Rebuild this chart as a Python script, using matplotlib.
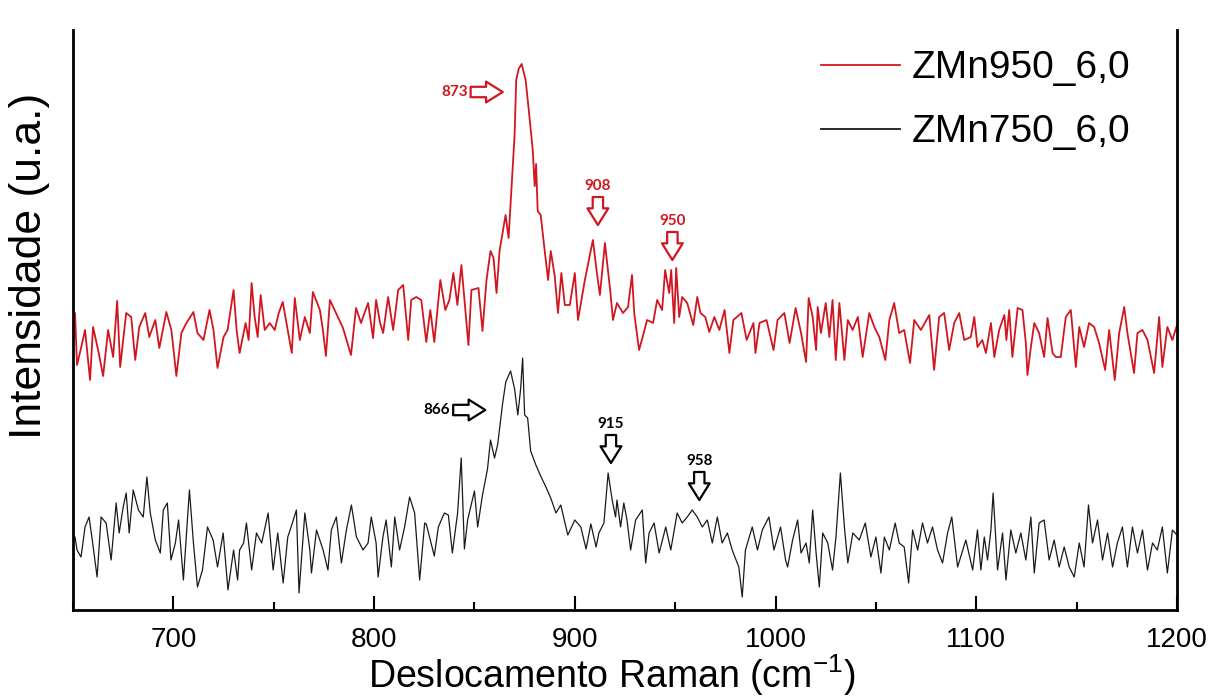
import matplotlib
matplotlib.use('Agg')
import matplotlib.pyplot as plt
from matplotlib.ticker import MultipleLocator

plt.rcParams['font.family'] = ['Liberation Sans', 'DejaVu Sans']
plt.rcParams['mathtext.fontset'] = 'custom'
plt.rcParams['mathtext.rm'] = 'Liberation Sans'

# espectro ZMn950_6,0 (intensidad en u.a.)
red_x = [650, 651, 652, 654, 656, 658.5, 660, 662.5, 665, 667.5, 670, 672, 673.5, 676.5, 679,
         681, 683, 686, 688, 691, 693, 696.5, 699, 701.5, 704, 706.5, 710, 712, 715, 718,
         720, 722, 725, 727, 730, 731.5, 733, 736, 737.5, 739, 740.5, 742, 743.5, 745.5, 748,
         750.5, 752.5, 754.5, 757, 759, 760.5, 763, 765.5, 768, 769.5, 773, 774.5, 776, 778,
         781, 784.5, 788.5, 791, 793.5, 797, 799.5, 801, 803, 804.5, 807, 809.5, 812, 814.5,
         817, 818.5, 821, 823.5, 826, 828, 830, 833, 835.5, 837.5, 839.5, 841.5, 843.5, 847,
         848.5, 852, 854, 856, 858, 859.5, 861, 862.5, 865.5, 867, 868.5, 870, 870.8, 872,
         873.5, 875.5, 877, 879, 880, 880.7, 881.5, 883, 885, 886.7, 888, 890, 891.6, 893.3,
         895, 897.5, 900, 901.6, 905, 907.5, 909, 911, 912.5, 915, 917.6, 919, 921, 924,
         926.5, 928.5, 929.6, 932, 933.8, 936, 939, 941, 943.5, 945, 947, 948, 949.5, 950.5,
         952, 953.5, 956, 959, 961, 962.6, 965, 967, 969.5, 972, 974.6, 977, 979, 983,
         985.6, 989, 990, 992, 995.5, 999, 1001, 1004.4, 1007, 1010, 1012.7, 1015.2, 1016.5,
         1018.5, 1020.2, 1021, 1022.6, 1025, 1026.8, 1028.4, 1030, 1031.8, 1034.3, 1036,
         1038.4, 1041, 1043.4, 1046.7, 1049.2, 1051.7, 1054.7, 1056.7, 1059.1, 1061.6,
         1064.1, 1067, 1069.1, 1072.4, 1076.6, 1079, 1081.5, 1084, 1086.5, 1089, 1091.5,
         1094, 1097.3, 1099, 1100.6, 1103, 1104.8, 1107.3, 1109, 1111.4, 1114, 1115, 1116.4,
         1118, 1120.6, 1123, 1124.7, 1125.5, 1127.2, 1128.9, 1131.3, 1133.8, 1135.5, 1138,
         1139.6, 1142.1, 1144.6, 1147.1, 1149.6, 1151.3, 1153.7, 1156.2, 1158.7, 1161.2,
         1164.2, 1166.2, 1169, 1171.2, 1173.7, 1175.3, 1178.6, 1180.3, 1182.8, 1185.3,
         1188.6, 1191.1, 1192.7, 1195.2, 1197.7, 1200]
red_y = [290, 297, 245, 262, 280, 230, 283, 260, 234, 280, 253, 309, 243, 297, 293,
         250, 283, 297, 273, 290, 262, 298, 280, 234, 277, 287, 298, 277, 270, 300,
         280, 242, 273, 280, 320, 280, 257, 287, 270, 327, 293, 273, 315, 280, 287,
         280, 297, 308, 280, 257, 312, 270, 293, 277, 318, 300, 280, 254, 310,
         297, 282, 255, 302, 287, 307, 272, 310, 287, 277, 313, 280, 320, 325,
         270, 310, 313, 310, 268, 300, 268, 330, 300, 310, 337, 305, 345, 265,
         320, 322, 279, 330, 359, 352, 317, 359, 395, 372, 424, 475, 530, 541,
         546, 530, 501, 461, 424, 446, 399, 395, 359, 330, 359, 334, 297, 337,
         305, 305, 337, 290, 330, 355, 370, 337, 315, 367, 320, 290, 307, 297,
         303, 335, 297, 260, 273, 290, 287, 310, 300, 340, 317, 340, 287, 342,
         293, 313, 307, 285, 313, 297, 293, 278, 293, 280, 300, 257, 290, 297,
         270, 287, 257, 287, 290, 260, 290, 297, 267, 302, 277, 248, 312,
         293, 260, 303, 277, 307, 273, 310, 250, 307, 250, 290,
         280, 293, 253, 297, 283, 273, 250, 290, 307, 277,
         280, 247, 290, 280, 295, 240, 293, 297, 260, 287, 297,
         270, 273, 293, 263, 270, 257, 287, 253, 280, 295, 270, 300,
         253, 302, 300, 267, 235, 263, 287, 277, 253, 292, 257,
         253, 253, 293, 300, 243, 283, 263, 287, 283, 267,
         240, 280, 230, 277, 303, 277, 237, 277, 280, 270,
         237, 293, 243, 283, 270, 285]

# espectro ZMn750_6,0
black_x = [650, 651, 652, 654, 656, 658, 659.6, 662, 664, 666.5, 669, 671.5, 673, 675, 676.5,
           678, 680, 682.6, 685, 686.8, 688.5, 691, 693.5, 695, 697, 698.8, 701, 702.6, 705,
           708, 710, 712, 714.5, 717, 719.8, 722, 724.8, 727.2, 730, 732, 733, 735, 736.4,
           739, 741.4, 744, 747.2, 749.7, 752, 754.7, 757, 759.3, 761.3, 762.6, 765.5, 768,
           768.8, 771.3, 774.6, 777, 778.7, 781.2, 783.7, 786.2, 788.7, 791.2, 794.5, 797,
           798.6, 801, 802, 804.4, 806, 808.6, 810.3, 812.7, 815.2, 817.7, 820.2, 822.7,
           825.2, 826, 828, 830, 832, 835, 837, 839, 841.6, 843.4, 845, 846.6, 850, 851.6,
           854, 856.5, 858, 860, 861.6, 864, 865.6, 868, 870, 871.6, 873, 874, 875, 876.5,
           878, 880.6, 883, 885.6, 888, 890.6, 893, 896.5, 900, 903, 905.6, 908, 910.6, 912,
           914.5, 916.6, 918.6, 920.3, 921, 922.8, 924.4, 926, 927.8, 930.3, 933.6, 935.3,
           937, 939.5, 942, 945.3, 947.8, 951, 953.5, 956, 958.5, 961, 963.5, 966, 968.5,
           971, 973.4, 976, 978.4, 981.7, 983.4, 985, 988.4, 991, 993.4, 996.7, 999.2,
           1002.5, 1005, 1006, 1008.5, 1011, 1012.7, 1015.2, 1016.8, 1018.5, 1020.2, 1021.8,
           1023.5, 1026, 1028.4, 1030.1, 1032.3, 1034.3, 1036, 1038.5, 1041.7, 1044.7,
           1047.5, 1050, 1052.5, 1054.2, 1056.7, 1059.6, 1061.6, 1064.1, 1066.3, 1068.3,
           1070.8, 1073.2, 1075.7, 1078.2, 1080.7, 1083.2, 1085.7, 1087.8, 1090.7, 1094.8,
           1098.2, 1100.6, 1102.3, 1104, 1105.6, 1107.3, 1108.4, 1110.6, 1113.1, 1114.8,
           1117.2, 1119.7, 1122.2, 1124.7, 1127.2, 1128.9, 1131.3, 1133.8, 1136.3, 1138.8,
           1141.3, 1143.8, 1146.3, 1148.8, 1151.3, 1153.7, 1155.9, 1157.9, 1160.4, 1162.9,
           1165.4, 1167.9, 1170.3, 1172.8, 1175.3, 1177.8, 1180.3, 1182.8, 1185.3, 1187.8,
           1190.2, 1192.7, 1195.2, 1197.7, 1200]
black_y = [70, 73, 60, 53, 83, 93, 70, 33, 93, 87, 50, 107, 77, 103, 117,
           77, 120, 100, 93, 133, 97, 70, 57, 100, 107, 50, 67, 90, 30,
           120, 67, 23, 40, 83, 70, 43, 77, 20, 60, 30, 60, 67, 87,
           40, 77, 67, 97, 40, 77, 27, 73, 87, 100, 17, 97, 60,
           37, 80, 60, 40, 80, 93, 47, 80, 105, 73, 60, 67,
           93, 67, 33, 73, 90, 43, 93, 60, 83, 113, 97, 30,
           87, 86, 70, 54, 83, 97, 95, 57, 97, 152, 61, 90, 119, 83,
           115, 141, 170, 152, 166, 206, 228, 239, 221, 195, 221, 252, 195, 192,
           159, 145, 134, 123, 112, 97, 105, 75, 90, 83, 61, 86, 63, 77,
           87, 137, 110, 93, 110, 83, 107, 90, 60, 90, 100, 47,
           77, 87, 57, 83, 60, 97, 87, 93, 100, 93, 83, 90, 67,
           93, 67, 77, 60, 43, 13, 60, 83, 60, 80, 93, 60,
           83, 50, 43, 70, 90, 57, 67, 47, 100, 57, 23,
           77, 67, 40, 73, 137, 83, 47, 77, 70, 87,
           53, 73, 37, 73, 60, 87, 67, 63, 27, 80,
           60, 87, 67, 83, 60, 47, 77, 93, 43, 70,
           40, 80, 40, 73, 50, 80, 117, 40, 77, 30,
           80, 57, 77, 50, 93, 37, 87, 90, 50, 70,
           43, 63, 43, 33, 67, 43, 105, 67, 90, 50,
           77, 43, 67, 83, 43, 83, 57, 80, 40, 67,
           60, 83, 37, 80, 75]

# etiquetas de los picos: (texto, x, y del texto, direccion de la flecha)
red_peaks = [('873', 840.1, 518, 'right'), ('908', 911.5, 424, 'down'), ('950', 948.6, 389, 'down')]
black_peaks = [('866', 831.4, 200, 'right'), ('915', 918.0, 186, 'down'), ('958', 962.0, 149, 'down')]

red = '#d2161f'
fig = plt.figure(figsize=(12.25, 7), dpi=100)
ax = fig.add_axes([73 / 1225, 90 / 700, 1104 / 1225, 580 / 700])
ax.plot(red_x, red_y, color=red, lw=1.3, label='ZMn950_6,0')
ax.plot(black_x, black_y, color='#1a1a1a', lw=0.9, label='ZMn750_6,0')
ax.set_xlim(650, 1200)
ax.set_ylim(0, 580)

def etiquetar(picos, color):
    for texto, x, y, d in picos:
        ax.text(x, y, texto, color=color, fontsize=11, fontweight='bold',
                family=['Lato', 'DejaVu Sans'], ha='center', va='center')
        if d == 'right':
            tail, tip = (x + 8, y), (x + 24, y)
        else:
            tail, tip = (x, y - 11), (x, y - 39)
        ax.annotate('', xy=tip, xytext=tail,
                    arrowprops=dict(arrowstyle='simple,head_length=0.8,head_width=1.0,tail_width=0.5',
                                    mutation_scale=15, fc='white', ec=color, lw=1.6,
                                    shrinkA=0, shrinkB=0))

etiquetar(red_peaks, red)
etiquetar(black_peaks, 'black')

for s in ['left', 'bottom', 'right']:
    ax.spines[s].set_linewidth(2)
ax.spines['top'].set_visible(False)
ax.set_yticks([])
ax.xaxis.set_major_locator(MultipleLocator(100))
ax.xaxis.set_minor_locator(MultipleLocator(50))
ax.tick_params(axis='x', which='major', direction='in', length=10, width=1.5,
               labelsize=20, pad=12)
ax.tick_params(axis='x', which='minor', direction='in', length=6, width=1.5)
ax.set_xticks([700, 800, 900, 1000, 1100, 1200])

fig.text(612 / 1225, 2 / 700, r'Deslocamento Raman (cm$\mathregular{^{-1}}$)',
         fontsize=27, ha='center', va='bottom')
fig.text(30 / 1225, 1 - 266 / 700, 'Intensidade (u.a.)', fontsize=32, rotation=90,
         ha='center', va='center')

leg = ax.legend(loc='upper left', bbox_to_anchor=(0.6455, 1.025), frameon=False, fontsize=28,
                handlelength=2.05, handletextpad=0.3, labelspacing=0.72)
for h in leg.get_lines():
    h.set_linewidth(1.3)

fig.savefig('out.png', dpi=100)
